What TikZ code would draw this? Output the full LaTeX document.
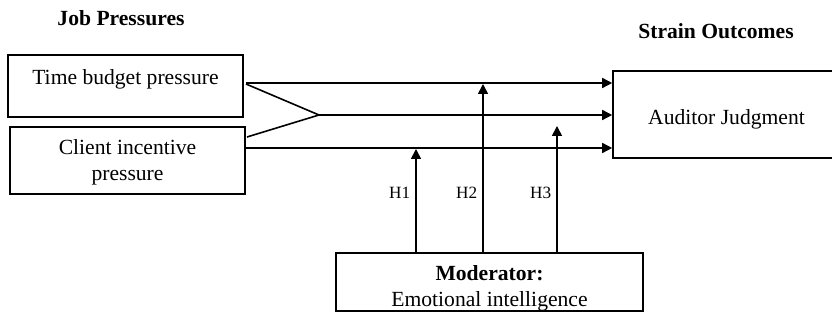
\documentclass[tikz,border=0pt]{standalone}
\usepackage{fontspec}
\setmainfont{Liberation Serif}
\usetikzlibrary{arrows.meta,positioning}

\begin{document}
\begin{tikzpicture}[
  x=0.5pt, y=-0.5pt,
  box/.style={draw, line width=0.8pt, inner sep=0pt, align=center, font=\fontsize{10.8}{13}\selectfont},
  arrow/.style={-{Triangle[length=5pt,width=5pt]}, line width=0.8pt},
  link/.style={line width=0.8pt},
  head/.style={font=\fontsize{10.8}{13}\selectfont\bfseries},
  hyp/.style={font=\fontsize{8.6}{10}\selectfont, anchor=east, inner sep=0pt, xshift=-2.5pt}
]
\useasboundingbox (0,0) rectangle (832,331);
\node[head] (jobhead) at (121,18) {Job Pressures};
\node[head] (strainhead) at (716,31) {Strain Outcomes};
\node[box, minimum width=117.5pt, minimum height=31pt, text height=8pt, text depth=9pt] (time) at (125.5,86) {Time budget pressure};
\node[box, minimum width=117.5pt, minimum height=33.5pt, text height=22.4pt, text depth=2.3pt] (client) at (127.5,160.5) {Client incentive\\pressure};
\node[box, minimum width=113.5pt, minimum height=43.5pt, text height=10pt, text depth=0pt] (judg) at (726.5,114.5) {Auditor Judgment};
\node[box, minimum width=153.5pt, minimum height=29pt, text height=26pt, text depth=1pt] (mod) at (489.5,282) {\textbf{Moderator:}\\Emotional intelligence};
% pressure paths
\coordinate (tstart) at (246,83);
\coordinate (cstart) at (245,148);
\coordinate (tfork) at (246,84);
\coordinate (cfork) at (247,137);
\coordinate (join) at (319,115);
\draw[arrow] (tstart) -- (tstart -| judg.west);
\draw[arrow] (cstart) -- (cstart -| judg.west);
\draw[link] (tfork) -- (join) -- (cfork);
\draw[arrow] (join) -- (join -| judg.west);
% moderating effects
\coordinate (h1top) at (416,149);
\coordinate (h2top) at (483,84);
\coordinate (h3top) at (557,126);
\draw[arrow] (h1top |- mod.north) -- (h1top) node[hyp, pos=0.58] (h1) {H1};
\draw[arrow] (h2top |- mod.north) -- (h2top) node[hyp, pos=0.355] (h2) {H2};
\draw[arrow] (h3top |- mod.north) -- (h3top) node[hyp, pos=0.47] (h3) {H3};
\end{tikzpicture}
\end{document}
